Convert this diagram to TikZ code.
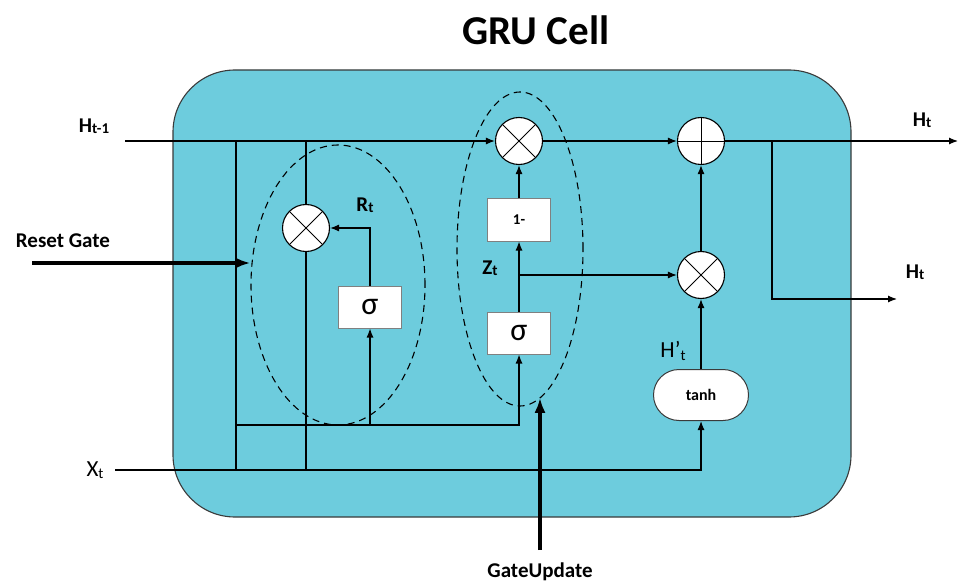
\documentclass[tikz,border=0pt]{standalone}
\usepackage{fontspec}
\setmainfont{Carlito}
\usepackage{xcolor}
\usepackage{tikz}
\usetikzlibrary{arrows.meta,positioning,calc,shapes.geometric,shapes.misc}
\definecolor{CellCyan}{HTML}{6DCCDD}
\definecolor{CellEdge}{HTML}{3A3A3A}
\definecolor{BoxGray}{HTML}{808080}
\newcommand{\sublbl}[2]{#1{\fontsize{15}{15}\selectfont\raisebox{-1.5pt}{#2}}}

\tikzset{
  cellbody/.style={draw=CellEdge,line width=1.1pt,fill=CellCyan,rounded corners=62pt},
  wire/.style={line width=1.2pt},
  flow/.style={wire,-{Latex[length=9pt,width=7pt]}},
  bigflow/.style={line width=3.2pt,-{Latex[length=15pt,width=11pt]}},
  opcirc/.style={circle,draw,line width=1.1pt,fill=white,minimum size=47pt,inner sep=0pt},
  multop/.style={opcirc,path picture={
      \draw[line width=0.9pt] (path picture bounding box.north west) -- (path picture bounding box.south east)
                              (path picture bounding box.north east) -- (path picture bounding box.south west);}},
  addop/.style={opcirc,path picture={
      \draw[line width=0.9pt] (path picture bounding box.north) -- (path picture bounding box.south)
                              (path picture bounding box.east) -- (path picture bounding box.west);}},
  gatebox/.style={rectangle,draw=BoxGray,line width=1pt,fill=white,minimum width=63pt,minimum height=42pt,inner sep=0pt},
  actbox/.style={rounded rectangle,draw=CellEdge,line width=1pt,fill=white,minimum width=95pt,minimum height=51pt,inner sep=0pt,font=\bfseries\fontsize{16}{18}\selectfont},
  gatezone/.style={ellipse,draw,dash pattern=on 7pt off 5pt,line width=1.1pt,inner sep=0pt},
  lbl/.style={font=\bfseries\fontsize{21}{24}\selectfont,inner sep=0pt}
}

\begin{document}
\begin{tikzpicture}[x=1pt,y=-1pt,>=Latex]
  \useasboundingbox (0,0) rectangle (959,583);
  \draw[cellbody] (173,70) rectangle (851,517);

  % dashed gate regions
  \node[gatezone,minimum width=174pt,minimum height=280pt] (rzone) at (338,285) {};
  \node[gatezone,minimum width=126pt,minimum height=314pt] (uzone) at (520,249) {};

  % operators and boxes
  \node[multop] (rmul) at (306,228) {};
  \node[gatebox,font=\fontsize{32}{34}\selectfont] (rsig) at (370,307) {σ};
  \node[multop] (umul) at (519,141) {};
  \node[gatebox,font=\bfseries\fontsize{15}{17}\selectfont] (onem) at (519,220) {1-};
  \node[gatebox,font=\fontsize{32}{34}\selectfont] (zsig) at (519,333) {σ};
  \node[addop] (add) at (701,141) {};
  \node[multop] (lmul) at (701,275) {};
  \node[actbox] (tanh) at (701,395) {tanh};

  % wire ends
  \coordinate (hin) at (125,141);
  \coordinate (xin) at (115,470);
  \coordinate (tapA) at (236,141);
  \coordinate (busL) at (236,425);
  \coordinate (split) at (772,141);
  \coordinate (hout) at (958,141);
  \coordinate (hout2) at (897,299);
  \coordinate (rin) at (32,263);
  \coordinate (gu) at (540,550);

  % connections
  \draw[flow] (hin) -- (umul.west);
  \draw[wire] (tapA) -- (tapA |- xin);
  \draw[wire] (rmul |- hin) -- (rmul.north);
  \draw[wire] (rmul.south) -- (rmul |- xin);
  \draw[flow] (busL) -| (zsig.south);
  \draw[flow] (rsig |- busL) -- (rsig.south);
  \draw[flow] (rsig.north) |- (rmul.east);
  \draw[flow] (xin) -| (tanh.south);
  \draw[flow] (zsig.north) -- (onem.south);
  \draw[flow] (onem.north) -- (umul.south);
  \draw[flow] (zsig |- lmul) -- (lmul.west);
  \draw[flow] (umul.east) -- (add.west);
  \draw[flow] (lmul.north) -- (add.south);
  \draw[flow] (tanh.north) -- (lmul.south);
  \draw[flow] (add.east) -- (hout);
  \draw[flow] (split) |- (hout2);
  \draw[bigflow] (rin) -- (rin -| rzone.west);
  \draw[bigflow] (gu) -- (gu |- uzone.-82);

  % labels
  \node[font=\bfseries\fontsize{41}{48}\selectfont] (title) at (536,30) {GRU Cell};
  \node[lbl] (hprev) at (94,126) {\sublbl{H}{t-1}};
  \node[lbl] (hnext) at (922,120) {\sublbl{H}{t}};
  \node[lbl] (hnext2) at (915,272) {\sublbl{H}{t}};
  \node[lbl] (resetlbl) at (63,241) {Reset Gate};
  \node[lbl] (rlbl) at (365,205) {\sublbl{R}{t}};
  \node[lbl] (zlbl) at (490,268) {\sublbl{Z}{t}};
  \node[lbl] (gulbl) at (540,572) {GateUpdate};
  \node[font=\fontsize{23}{25}\selectfont,inner sep=0pt] (xlbl) at (95,470) {X{\fontsize{15}{15}\selectfont\raisebox{-1.5pt}{t}}};
  \node[font=\fontsize{23}{25}\selectfont,inner sep=0pt] (hcand) at (673,351) {H’{\fontsize{15}{15}\selectfont\raisebox{-3pt}{t}}};
\end{tikzpicture}
\end{document}
